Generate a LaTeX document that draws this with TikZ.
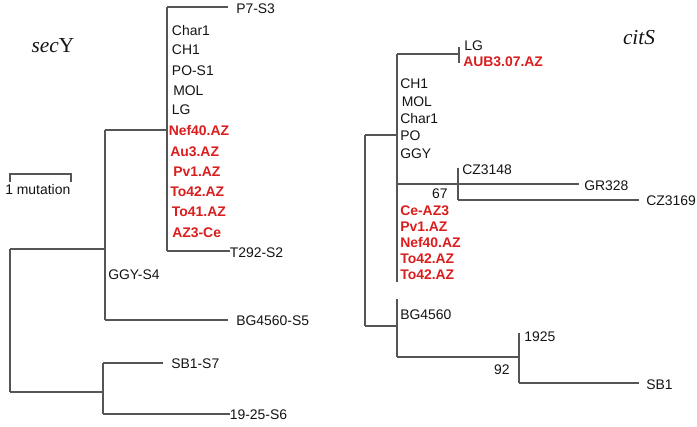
\documentclass[tikz,border=0pt]{standalone}
\usepackage{fontspec}
\setmainfont{Liberation Sans}
\newfontfamily\titlefont{Liberation Serif}
\definecolor{lbl}{RGB}{20,20,20}
\definecolor{hot}{RGB}{218,30,30}
\definecolor{edge}{RGB}{85,85,85}
\begin{document}
\begin{tikzpicture}[x=0.75pt,y=-0.75pt,
  lab/.style={anchor=west,inner sep=0pt,font=\fontsize{10.45}{12}\selectfont,text=lbl,text height=7.5pt,text depth=0pt},
  redlab/.style={lab,font=\fontsize{10.45}{12}\selectfont\bfseries,text=hot},
  numlab/.style={lab,anchor=east},
  branch/.style={draw=edge,line width=0.8pt},
  title/.style={inner sep=0pt,font=\titlefont\fontsize{16}{18}\selectfont,text=lbl}]
\useasboundingbox (0,0) rectangle (697,426);
\fill[white] (0,0) rectangle (697,426);
% ---------------- secY ----------------
\node[title] (tL) at (53,46) {\textit{sec}Y};
% scale bar
\coordinate (sb1) at (10,174);
\coordinate (sb2) at (71,174);
\draw[branch] ([yshift=-6]sb1) -- (sb1) -- (sb2) -- ([yshift=-6]sb2);
\node[lab] (mut) at (5,189) {1 mutation};
% internal nodes
\coordinate (rL1) at (10,249);
\coordinate (rL2) at (10,392);
\coordinate (a1) at (105,130);
\coordinate (a2) at (105,320);
\coordinate (b1) at (167,7);
\coordinate (b2) at (167,251);
\coordinate (c1) at (103,363);
\coordinate (c2) at (103,414);
% leaves
\node[lab] (p7) at (236,8) {P7-S3};
\node[lab] (ch1L) at (171.7,30.3) {Char1};
\node[lab] (ch2L) at (171.7,49.6) {CH1};
\node[lab] (poL) at (171.7,70) {PO-S1};
\node[lab] (molL) at (173,90) {MOL};
\node[lab] (lgL) at (171.7,109.5) {LG};
\node[redlab] (nefL) at (168.5,130) {Nef40.AZ};
\node[redlab] (auL) at (170,151) {Au3.AZ};
\node[redlab] (pvL) at (173,171.3) {Pv1.AZ};
\node[redlab] (to42L) at (170,191.7) {To42.AZ};
\node[redlab] (to41L) at (171.7,211.7) {To41.AZ};
\node[redlab] (azL) at (172,232.3) {AZ3-Ce};
\node[lab] (t292) at (229.5,252) {T292-S2};
\node[lab] (ggyL) at (108,274) {GGY-S4};
\node[lab] (bgL) at (236,320.5) {BG4560-S5};
\node[lab] (sb1L) at (171,363.5) {SB1-S7};
\node[lab] (s6L) at (229.5,414.5) {19-25-S6};
% branches
\draw[branch] (rL1) -- (rL2);
\draw[branch] (rL1) -- (rL1 -| a1);
\draw[branch] (rL2) -- (rL2 -| c1);
\draw[branch] (a1) -- (a2);
\draw[branch] (a1) -- (a1 -| b1);
\draw[branch] (a2) -- ([xshift=-6]bgL.west |- a2);
\draw[branch] (b1) -- (b2);
\draw[branch] (b1) -- ([xshift=-6]p7.west |- b1);
\draw[branch] (b2) -- (t292.west |- b2);
\draw[branch] (c1) -- (c2);
\draw[branch] (c1) -- ([xshift=-6]sb1L.west |- c1);
\draw[branch] (c2) -- (s6L.west |- c2);
% ---------------- citS ----------------
\node[title] (tR) at (639,38) {\textit{citS}};
\coordinate (r1) at (365,135);
\coordinate (r2) at (365,326);
\coordinate (d1) at (397,54);
\coordinate (d2) at (397,282);
\coordinate (e1) at (459,47);
\coordinate (e2) at (459,63);
\coordinate (f1) at (458,168);
\coordinate (f2) at (458,200);
\coordinate (f0) at (397,184);
\coordinate (g1) at (397,299);
\coordinate (g2) at (397,357);
\coordinate (h1) at (519,333);
\coordinate (h2) at (519,383);
\node[lab] (lgR) at (464,45.5) {LG};
\node[redlab] (aubR) at (463,61.5) {AUB3.07.AZ};
\node[lab] (ch1R) at (400,83) {CH1};
\node[lab] (molR) at (401.5,101) {MOL};
\node[lab] (charR) at (400,118.5) {Char1};
\node[lab] (poR) at (400,135.5) {PO};
\node[lab] (ggyR) at (400,153.5) {GGY};
\node[lab] (cz48) at (462,169) {CZ3148};
\node[lab] (gr) at (584,185) {GR328};
\node[lab] (cz69) at (646,200.5) {CZ3169};
\node[numlab] (n67) at (448,193.5) {67};
\node[redlab] (ceR) at (400,210) {Ce-AZ3};
\node[redlab] (pvR) at (400,226) {Pv1.AZ};
\node[redlab] (nefR) at (400,242) {Nef40.AZ};
\node[redlab] (to42a) at (400,258) {To42.AZ};
\node[redlab] (to42b) at (400,274) {To42.AZ};
\node[lab] (bgR) at (400,314) {BG4560};
\node[lab] (n1925) at (524,336) {1925};
\node[numlab] (n92) at (510,369.5) {92};
\node[lab] (sbR) at (646,384) {SB1};
\draw[branch] (r1) -- (r2);
\draw[branch] (r1) -- (r1 -| d1);
\draw[branch] (r2) -- (r2 -| g1);
\draw[branch] (d1) -- (d2);
\draw[branch] (d1) -- (d1 -| e1);
\draw[branch] (e1) -- (e2);
\draw[branch] (f0) -- ([xshift=-4]gr.west |- f0);
\draw[branch] (f1) -- (f2);
\draw[branch] (f2) -- ([xshift=-5]cz69.west |- f2);
\draw[branch] (g1) -- (g2);
\draw[branch] (g2) -- (g2 -| h1);
\draw[branch] (h1) -- (h2);
\draw[branch] (h2) -- ([xshift=-5]sbR.west |- h2);
\end{tikzpicture}
\end{document}
